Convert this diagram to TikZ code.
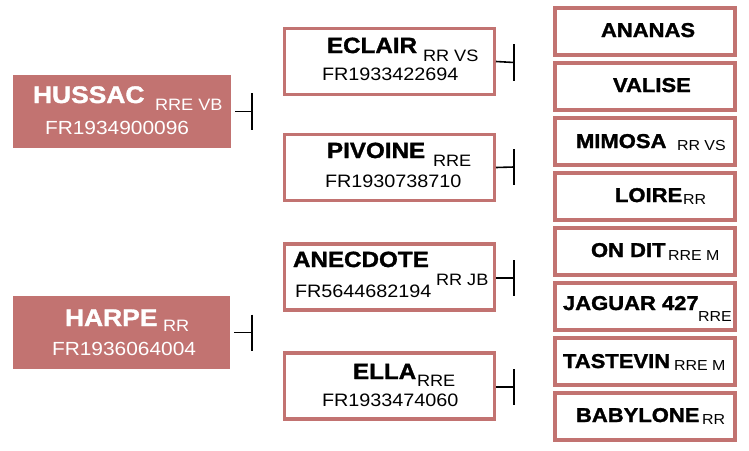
\documentclass[tikz,border=0pt]{standalone}
\usepackage{fontspec}
\setmainfont{Liberation Sans}
\newfontfamily\namefont{Liberation Sans}[FakeStretch=1.1, BoldFeatures={FakeBold=1.5}]
\newfontfamily\numfont{Liberation Sans}[FakeStretch=1.1]
\definecolor{rose}{HTML}{C27371}
\tikzset{
  box/.style={rectangle, inner sep=0pt, outer sep=0pt},
  leftbox/.style={box, fill=rose, draw=none, minimum width=218pt, minimum height=73pt},
  midbox/.style={box, fill=white, draw=rose, line width=3.3pt, minimum width=209.7pt, minimum height=66pt},
  rightbox/.style={box, fill=white, draw=rose, line width=4pt, minimum width=180pt, minimum height=47pt},
  txt/.style={anchor=base west, inner sep=0pt, outer sep=0pt},
  bigname/.style={txt, font=\namefont\bfseries\fontsize{24}{28}\selectfont},
  midname/.style={txt, font=\namefont\bfseries\fontsize{22}{26}\selectfont},
  rname/.style={txt, font=\namefont\bfseries\fontsize{20}{24}\selectfont},
  lsuf/.style={txt, font=\numfont\fontsize{16.5}{20}\selectfont},
  rsuf/.style={txt, font=\numfont\fontsize{14.5}{18}\selectfont},
  lnum/.style={txt, font=\numfont\fontsize{19}{22}\selectfont},
  mnum/.style={txt, font=\numfont\fontsize{18}{22}\selectfont},
  conn/.style={draw=black, line width=1.6pt},
}
\begin{document}
\begin{tikzpicture}[x=1pt, y=-1pt]
\useasboundingbox (0,0) rectangle (749,450);
% left boxes
\node[leftbox] (hussac) at (122,111.5) {};
\node[leftbox, minimum width=217pt] (harpe) at (121.5,332.5) {};
% middle boxes
\node[midbox] (eclair) at (389.5,61.5) {};
\node[midbox] (pivoine) at (389.5,167.5) {};
\node[midbox] (anecdote) at (389.5,277) {};
\node[midbox] (ella) at (389.5,386) {};
% right boxes
\node[rightbox] (ananas) at (645,31.5) {};
\node[rightbox] (valise) at (645,86) {};
\node[rightbox] (mimosa) at (645,141.5) {};
\node[rightbox] (loire) at (645,196.5) {};
\node[rightbox] (ondit) at (645,251.5) {};
\node[rightbox] (jaguar) at (645,306.5) {};
\node[rightbox] (tastevin) at (645,361.5) {};
\node[rightbox] (babylone) at (645,416.5) {};
% left texts
\node[bigname, text=white] (hussacT) at (33,103) {HUSSAC};
\node[lsuf, text=white] (hussacS) at (155,110) {RRE VB};
\node[lnum, text=white] (hussacN) at (45,134) {FR1934900096};
\node[bigname, text=white] (harpeT) at (65,326) {HARPE};
\node[lsuf, text=white] (harpeS) at (163,331) {RR};
\node[lnum, text=white] (harpeN) at (52,355) {FR1936064004};
% middle texts
\node[midname] (eclairT) at (327,53) {ECLAIR};
\node[lsuf] (eclairS) at (423,61) {RR VS};
\node[mnum] (eclairN) at (322,80) {FR1933422694};
\node[midname] (pivoineT) at (327,158) {PIVOINE};
\node[lsuf] (pivoineS) at (433,166) {RRE};
\node[mnum] (pivoineN) at (325,187) {FR1930738710};
\node[midname] (anecdoteT) at (293,267) {ANECDOTE};
\node[lsuf] (anecdoteS) at (436,285) {RR JB};
\node[mnum] (anecdoteN) at (295,297) {FR5644682194};
\node[midname] (ellaT) at (353,379) {ELLA};
\node[lsuf] (ellaS) at (417,386) {RRE};
\node[mnum] (ellaN) at (322,406) {FR1933474060};
% right texts
\node[rname] (ananasT) at (601,37) {ANANAS};
\node[rname] (valiseT) at (613,92) {VALISE};
\node[rname] (mimosaT) at (576,148) {MIMOSA};
\node[rsuf] (mimosaS) at (677,150) {RR VS};
\node[rname] (loireT) at (615,202) {LOIRE};
\node[rsuf] (loireS) at (683,204) {RR};
\node[rname] (onditT) at (591,257) {ON DIT};
\node[rsuf] (onditS) at (668,260) {RRE M};
\node[rname] (jaguarT) at (563,310) {JAGUAR 427};
\node[rsuf] (jaguarS) at (698,321) {RRE};
\node[rname] (tastevinT) at (563,368) {TASTEVIN};
\node[rsuf] (tastevinS) at (674,370) {RRE M};
\node[rname] (babyloneT) at (576,422) {BABYLONE};
\node[rsuf] (babyloneS) at (702,424) {RR};
% connectors
\coordinate (t1) at (252,111.5);
\coordinate (t2) at (252,332.5);
\coordinate (t3) at (514,62.5);
\coordinate (t4) at (514,167);
\coordinate (t5) at (514,278);
\coordinate (t6) at (514,387);
\draw[conn] ([xshift=4pt]hussac.east) -- (t1);
\draw[conn] ([yshift=18.5pt]t1) -- ([yshift=-18.5pt]t1);
\draw[conn] ([xshift=4pt]harpe.east) -- (t2);
\draw[conn] ([yshift=18pt]t2) -- ([yshift=-18pt]t2);
\draw[conn] ([xshift=1.65pt]eclair.east) -- (t3);
\draw[conn] ([yshift=18.5pt]t3) -- ([yshift=-18.5pt]t3);
\draw[conn] ([xshift=1.65pt]pivoine.east) -- (t4);
\draw[conn] ([yshift=18pt]t4) -- ([yshift=-18pt]t4);
\draw[conn] ([xshift=1.65pt]anecdote.east |- t5) -- (t5);
\draw[conn] ([yshift=18pt]t5) -- ([yshift=-18pt]t5);
\draw[conn] ([xshift=1.65pt]ella.east |- t6) -- (t6);
\draw[conn] ([yshift=18pt]t6) -- ([yshift=-18pt]t6);
\end{tikzpicture}
\end{document}
